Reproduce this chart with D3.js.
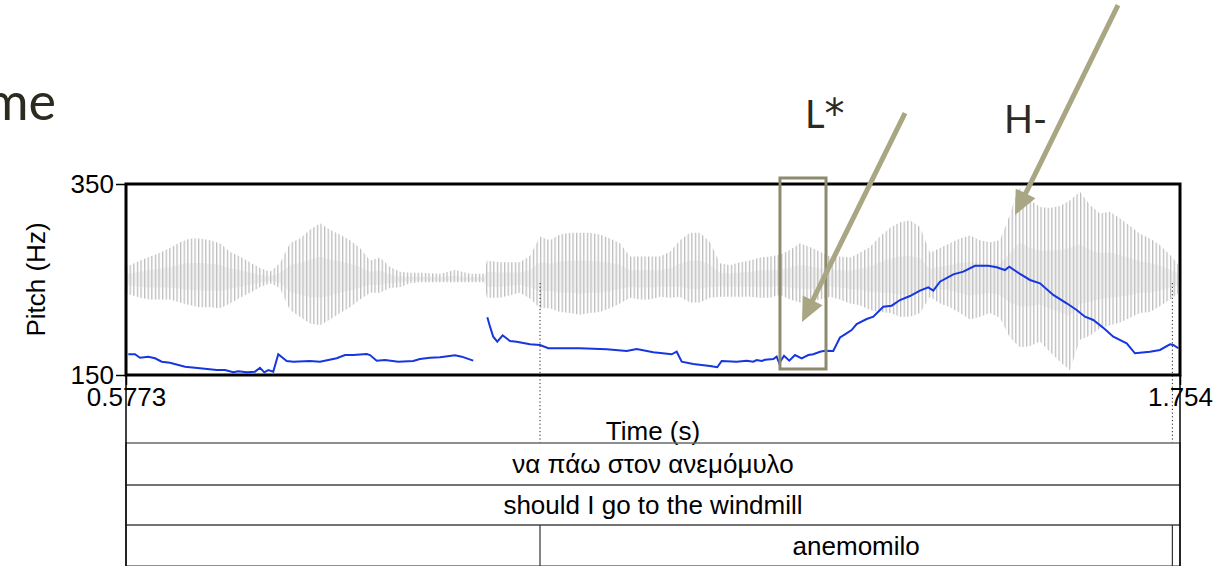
<!DOCTYPE html>
<html>
<head>
<meta charset="utf-8">
<script src="https://cdn.jsdelivr.net/npm/d3@7"></script>
<style>
  body { margin:0; background:#fff; }
  svg { display:block; }
  .plotText { font-family:"Liberation Sans", Arial, sans-serif; font-size:26px; fill:#000; }
  .slideText { font-family:Lato, "Open Sans", sans-serif; fill:#2d2a1f; }
</style>
</head>
<body>
<svg></svg>
<script>
// time window of the praat picture
var timeRange = [0.5773, 1.754];
var pitchRange = [150, 350];
var timeTickLabels = ["0.5773", "1.754"];
var pitchTickLabels = ["150", "350"];

// pitch contour (s, Hz), two voiced stretches
var pitchSeg1 = [
  [0.5799,171.7],[0.5873,171.7],[0.5929,168.1],[0.6022,169.2],[0.6097,167.5],[0.6172,163.9],
  [0.6264,162.9],[0.6432,158.7],[0.6599,157.0],[0.6786,155.2],[0.6878,155.2],[0.6971,152.8],
  [0.7027,153.9],[0.7120,152.8],[0.7213,153.5],[0.7269,157.6],[0.7317,152.8],[0.7362,155.2],
  [0.7417,153.5],[0.7473,171.7],[0.7567,164.7],[0.7641,163.9],[0.7827,164.7],[0.7939,163.9],
  [0.8125,167.5],[0.8218,170.9],[0.8310,170.9],[0.8460,172.0],[0.8497,170.9],[0.8572,165.0],
  [0.8665,165.7],[0.8813,163.9],[0.8980,164.7],[0.9055,166.8],[0.9167,168.1],[0.9279,168.5],
  [0.9446,170.6],[0.9521,169.2],[0.9650,165.0]
];
var pitchSeg2 = [
  [0.9807,210.4],[0.9837,200.6],[0.9873,190.1],[0.9918,184.9],[0.9978,191.6],[1.0060,185.6],
  [1.0135,184.9],[1.0283,182.1],[1.0395,181.4],[1.0488,178.0],[1.0841,178.0],[1.1140,176.9],
  [1.1363,175.1],[1.1474,177.2],[1.1660,173.8],[1.1865,171.7],[1.1921,174.4],[1.1977,163.9],
  [1.2106,161.5],[1.2293,159.4],[1.2374,158.1],[1.2423,164.7],[1.2591,163.9],[1.2702,165.0],
  [1.2776,163.9],[1.2814,165.7],[1.2870,164.7],[1.2907,166.0],[1.3000,166.8],[1.3037,169.2],
  [1.3066,162.3],[1.3119,170.2],[1.3178,165.0],[1.3242,170.9],[1.3316,167.5],[1.3390,170.9],
  [1.3446,171.7],[1.3521,174.4],[1.3576,175.4],[1.3669,175.1],[1.3744,189.3],[1.3800,192.6],
  [1.3874,197.1],[1.3930,203.4],[1.4042,208.6],[1.4116,211.0],[1.4227,221.5],[1.4321,222.6],
  [1.4414,228.5],[1.4525,232.7],[1.4637,238.3],[1.4730,241.8],[1.4786,238.3],[1.4860,247.7],
  [1.5009,255.4],[1.5121,258.2],[1.5251,264.4],[1.5400,264.4],[1.5493,262.8],[1.5586,259.9],
  [1.5634,263.4],[1.5754,255.8],[1.5865,249.5],[1.5977,246.0],[1.6125,233.8],[1.6275,225.1],
  [1.6386,218.1],[1.6479,211.0],[1.6572,207.6],[1.6703,197.9],[1.6795,190.1],[1.6945,183.2],
  [1.7037,172.7],[1.7205,174.4],[1.7316,176.2],[1.7428,182.1],[1.7465,181.4],[1.7521,178.0]
];

// waveform envelope (s, upper, lower), relative amplitude
var waveEnv = [
  [0.5784,0.15,-0.16],[0.5818,0.15,-0.16],[0.5929,0.20,-0.19],[0.6041,0.24,-0.21],[0.6153,0.28,-0.21],
  [0.6264,0.33,-0.21],[0.6376,0.39,-0.24],[0.6488,0.43,-0.27],[0.6599,0.43,-0.29],[0.6711,0.41,-0.29],
  [0.6822,0.38,-0.30],[0.6934,0.29,-0.25],[0.7046,0.24,-0.19],[0.7157,0.18,-0.14],[0.7269,0.12,-0.08],
  [0.7381,0.08,-0.04],[0.7492,0.17,-0.09],[0.7604,0.38,-0.32],[0.7715,0.43,-0.39],[0.7827,0.52,-0.46],
  [0.7939,0.59,-0.48],[0.8050,0.52,-0.42],[0.8162,0.47,-0.35],[0.8274,0.41,-0.29],[0.8385,0.33,-0.21],
  [0.8497,0.20,-0.14],[0.8609,0.23,-0.14],[0.8720,0.13,-0.09],[0.8832,0.08,-0.08],[0.8944,0.07,-0.04],
  [0.9055,0.07,-0.03],[0.9279,0.06,-0.03],[0.9446,0.10,-0.03],[0.9613,0.06,-0.03],[0.9770,0.06,-0.03],
  [0.9803,0.20,-0.19],[0.9948,0.18,-0.19],[1.0172,0.18,-0.14],[1.0283,0.25,-0.20],[1.0395,0.45,-0.30],
  [1.0506,0.41,-0.30],[1.0618,0.47,-0.34],[1.0730,0.49,-0.35],[1.0841,0.49,-0.37],[1.0953,0.49,-0.35],
  [1.1065,0.47,-0.34],[1.1176,0.43,-0.30],[1.1288,0.38,-0.25],[1.1400,0.24,-0.19],[1.1511,0.24,-0.21],
  [1.1623,0.24,-0.21],[1.1734,0.24,-0.18],[1.1846,0.29,-0.19],[1.1958,0.41,-0.18],[1.2069,0.49,-0.24],
  [1.2181,0.49,-0.24],[1.2293,0.39,-0.19],[1.2404,0.17,-0.18],[1.2516,0.15,-0.18],[1.2627,0.18,-0.18],
  [1.2739,0.20,-0.18],[1.2851,0.23,-0.19],[1.2962,0.24,-0.19],[1.3074,0.26,-0.16],[1.3186,0.31,-0.21],
  [1.3297,0.38,-0.24],[1.3409,0.34,-0.24],[1.3521,0.29,-0.21],[1.3632,0.24,-0.18],[1.3744,0.24,-0.21],
  [1.3856,0.23,-0.25],[1.3967,0.28,-0.27],[1.4079,0.34,-0.32],[1.4190,0.45,-0.34],[1.4302,0.54,-0.35],
  [1.4414,0.60,-0.39],[1.4525,0.62,-0.39],[1.4637,0.55,-0.35],[1.4749,0.28,-0.18],[1.4860,0.33,-0.25],
  [1.4972,0.38,-0.29],[1.5084,0.43,-0.35],[1.5195,0.46,-0.42],[1.5307,0.41,-0.39],[1.5419,0.39,-0.35],
  [1.5530,0.41,-0.40],[1.5642,0.68,-0.61],[1.5698,0.85,-0.66],[1.5754,0.96,-0.71],[1.5865,0.83,-0.70],
  [1.5977,0.76,-0.65],[1.6088,0.75,-0.76],[1.6200,0.77,-0.86],[1.6312,0.83,-0.95],[1.6423,0.92,-0.63],
  [1.6535,0.78,-0.59],[1.6647,0.69,-0.51],[1.6758,0.71,-0.48],[1.6870,0.64,-0.45],[1.6982,0.56,-0.40],
  [1.7093,0.48,-0.35],[1.7205,0.43,-0.34],[1.7316,0.36,-0.28],[1.7428,0.26,-0.21],[1.7517,0.16,-0.15]
];

// textgrid tiers
var tierLabels = ["να πάω στον ανεμόμυλο", "should I go to the windmill"];
var wordBounds = [1.0395, 1.7455];
var wordLabels = ["anemomilo"];

// slide annotations (in plot units: s, Hz)
var boxTimes = [1.3074, 1.3588];
var boxHz = [156.3, 356.3];
var arrows = [
  {from:[1.4470,424.3], to:[1.3320,205.5]},
  {from:[1.6848,537.4], to:[1.5698,317.5]}
];
var tones = [
  {base:"L", mark:"*", t:1.3353, hz:408.6},
  {base:"H", mark:"-", t:1.5575, hz:403.4}
];

var drawChart = function()
{
  var screen = {width:1216, height:566};
  var plot = {left:126, right:1180, top:184, bottom:375};
  var tierTop = 443, tierH = [42, 40, 41];

  var svg = d3.select("svg")
              .attr("width", screen.width)
              .attr("height", screen.height);

  var xScale = d3.scaleLinear().domain(timeRange).range([plot.left, plot.right]);
  var yScale = d3.scaleLinear().domain(pitchRange).range([plot.bottom, plot.top]);
  var wScale = d3.scaleLinear().domain([-1, 1]).range([plot.bottom, plot.top]);

  // hatch used to draw the waveform texture
  var defs = svg.append("defs");
  var pat = defs.append("pattern")
                .attr("id", "wave")
                .attr("patternUnits", "userSpaceOnUse")
                .attr("width", 3.6)
                .attr("height", 10);
  pat.append("rect").attr("x", 0).attr("y", 0).attr("width", 1.3).attr("height", 10).attr("fill", "#bdbdbd");

  var waveArea = d3.area()
                   .x(function(d){ return xScale(d[0]); })
                   .y0(function(d){ return wScale(d[2]); })
                   .y1(function(d){ return wScale(d[1]); });
  svg.append("path")
     .datum(waveEnv)
     .attr("d", waveArea)
     .attr("fill", "url(#wave)");
  svg.append("path")
     .datum(waveEnv)
     .attr("d", d3.area()
                  .x(function(d){ return xScale(d[0]); })
                  .y0(function(d){ return wScale(d[2] * 0.4); })
                  .y1(function(d){ return wScale(d[1] * 0.4); }))
     .attr("fill", "#c8c8c8")
     .attr("opacity", 0.25);

  // pitch
  var line = d3.line()
               .x(function(d){ return xScale(d[0]); })
               .y(function(d){ return yScale(d[1]); });
  svg.selectAll(".pitch")
     .data([pitchSeg1, pitchSeg2])
     .enter()
     .append("path")
     .classed("pitch", true)
     .attr("d", line)
     .attr("fill", "none")
     .attr("stroke", "#1636e0")
     .attr("stroke-width", 2);

  // dotted boundaries from the word tier
  svg.selectAll(".dots")
     .data(wordBounds)
     .enter()
     .append("line")
     .attr("x1", function(d){ return xScale(d); })
     .attr("x2", function(d){ return xScale(d); })
     .attr("y1", 283)
     .attr("y2", tierTop)
     .attr("stroke", "#222")
     .attr("stroke-width", 1)
     .attr("stroke-dasharray", "1.2,2.5");

  // frame
  svg.append("rect")
     .attr("x", plot.left).attr("y", plot.top)
     .attr("width", plot.right - plot.left)
     .attr("height", plot.bottom - plot.top)
     .attr("fill", "none")
     .attr("stroke", "#000")
     .attr("stroke-width", 3);

  var yAxis = d3.axisLeft(yScale)
                .tickValues(pitchRange)
                .tickSize(10)
                .tickPadding(2)
                .tickFormat(function(d,i){ return pitchTickLabels[i]; });
  var gy = svg.append("g")
              .attr("transform", "translate(" + plot.left + ",0)")
              .call(yAxis);
  gy.select(".domain").remove();
  gy.selectAll("line").attr("stroke-width", 1.5);
  gy.selectAll("text").attr("class", "plotText").attr("fill", "#000");

  var xAxis = d3.axisBottom(xScale)
                .tickValues(timeRange)
                .tickSize(10)
                .tickPadding(3)
                .tickFormat(function(d,i){ return timeTickLabels[i]; });
  var gx = svg.append("g")
              .attr("transform", "translate(0," + plot.bottom + ")")
              .call(xAxis);
  gx.select(".domain").remove();
  gx.selectAll("line").attr("stroke-width", 1.5);
  gx.selectAll("text").attr("class", "plotText").attr("fill", "#000");

  svg.append("text")
     .attr("class", "plotText")
     .attr("text-anchor", "middle")
     .attr("transform", "translate(45," + ((plot.top + plot.bottom) / 2) + ") rotate(-90)")
     .text("Pitch (Hz)");
  svg.append("text")
     .attr("class", "plotText")
     .attr("text-anchor", "middle")
     .attr("x", (plot.left + plot.right) / 2)
     .attr("y", 440)
     .text("Time (s)");

  // tiers
  var yPos = tierTop;
  var rows = [];
  tierH.forEach(function(h){ rows.push([yPos, h]); yPos += h; });
  svg.selectAll(".tier")
     .data(rows)
     .enter()
     .append("rect")
     .classed("tier", true)
     .attr("x", plot.left)
     .attr("y", function(d){ return d[0]; })
     .attr("width", plot.right - plot.left)
     .attr("height", function(d){ return d[1]; })
     .attr("fill", "none")
     .attr("stroke", "#6b6b6b")
     .attr("stroke-width", 1.5);
  svg.selectAll(".tierLabel")
     .data(tierLabels)
     .enter()
     .append("text")
     .attr("class", "plotText")
     .attr("text-anchor", "middle")
     .attr("x", (plot.left + plot.right) / 2)
     .attr("y", function(d,i){ return rows[i][0] + rows[i][1] / 2 + 9; })
     .text(function(d){ return d; });
  var wr = rows[2];
  svg.selectAll(".wordBound")
     .data(wordBounds)
     .enter()
     .append("line")
     .attr("x1", function(d){ return xScale(d); })
     .attr("x2", function(d){ return xScale(d); })
     .attr("y1", wr[0])
     .attr("y2", wr[0] + wr[1])
     .attr("stroke", "#333")
     .attr("stroke-width", 1.2);
  svg.selectAll(".wordLabel")
     .data(wordLabels)
     .enter()
     .append("text")
     .attr("class", "plotText")
     .attr("text-anchor", "middle")
     .attr("x", function(d,i){ return (xScale(wordBounds[i]) + xScale(wordBounds[i+1])) / 2; })
     .attr("y", wr[0] + wr[1] / 2 + 9)
     .text(function(d){ return d; });

  // side lines of the picture
  [plot.left, plot.right].forEach(function(x){
    svg.append("line")
       .attr("x1", x).attr("x2", x)
       .attr("y1", plot.bottom).attr("y2", screen.height)
       .attr("stroke", "#000")
       .attr("stroke-width", 1.5);
  });

  // slide overlay: end of the slide title
  svg.append("text")
     .attr("class", "slideText")
     .attr("text-anchor", "end")
     .attr("x", 56)
     .attr("y", 120)
     .attr("font-size", 52)
     .text("me");

  svg.append("rect")
     .attr("x", xScale(boxTimes[0]))
     .attr("y", yScale(boxHz[1]))
     .attr("width", xScale(boxTimes[1]) - xScale(boxTimes[0]))
     .attr("height", yScale(boxHz[0]) - yScale(boxHz[1]))
     .attr("fill", "none")
     .attr("stroke", "#8e8a6c")
     .attr("stroke-width", 3);

  arrows.forEach(function(a){
    var x1 = xScale(a.from[0]), y1 = yScale(a.from[1]);
    var x2 = xScale(a.to[0]), y2 = yScale(a.to[1]);
    var len = Math.sqrt((x2-x1)*(x2-x1) + (y2-y1)*(y2-y1));
    var ux = (x2-x1)/len, uy = (y2-y1)/len;
    var head = 24, half = 11;
    var bx = x2 - ux*head, by = y2 - uy*head;
    svg.append("line")
       .attr("x1", x1).attr("y1", y1)
       .attr("x2", bx + ux*4).attr("y2", by + uy*4)
       .attr("stroke", "#a9a684")
       .attr("stroke-width", 5);
    svg.append("polygon")
       .attr("points", [[x2,y2],[bx - uy*half, by + ux*half],[bx + uy*half, by - ux*half]].join(" "))
       .attr("fill", "#a9a684");
  });

  var toneText = svg.selectAll(".tone")
     .data(tones)
     .enter()
     .append("text")
     .attr("class", "slideText")
     .attr("x", function(d){ return xScale(d.t); })
     .attr("y", function(d){ return yScale(d.hz); })
     .attr("font-size", 38);
  toneText.append("tspan").text(function(d){ return d.base; });
  toneText.append("tspan")
     .attr("font-family", function(d){ return d.mark == "*" ? "DejaVu Sans" : null; })
     .attr("font-size", function(d){ return d.mark == "*" ? 40 : 38; })
     .text(function(d){ return d.mark; });
};

drawChart();
</script>
</body>
</html>
